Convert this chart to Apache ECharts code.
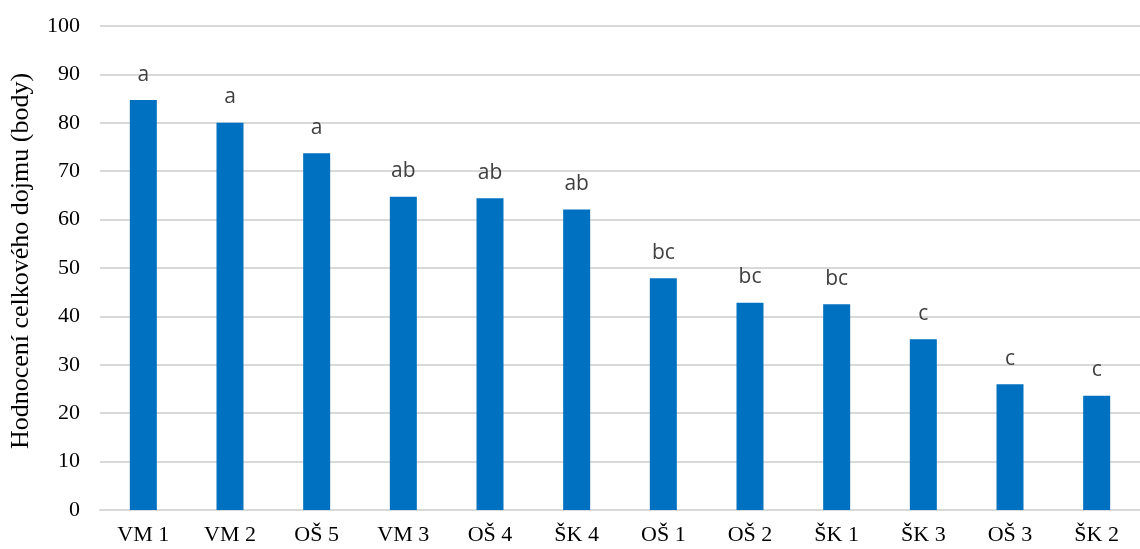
<!DOCTYPE html>
<html>
<head>
<meta charset="utf-8">
<script src="https://cdn.jsdelivr.net/npm/echarts@6/dist/echarts.min.js"></script>
<style>
  html, body { margin: 0; padding: 0; background: #fff; }
  #chart { width: 1140px; height: 549px; }
</style>
</head>
<body>
<div id="chart"></div>
<script>
// Samples ordered by overall impression score
const categories = ['VM 1', 'VM 2', 'OŠ 5', 'VM 3', 'OŠ 4', 'ŠK 4', 'OŠ 1', 'OŠ 2', 'ŠK 1', 'ŠK 3', 'OŠ 3', 'ŠK 2'];
const scores = [84.7, 80.0, 73.7, 64.7, 64.4, 62.1, 47.9, 42.8, 42.5, 35.3, 26.0, 23.6];
// Homogeneous-group letters shown above each bar
const groups = ['a', 'a', 'a', 'ab', 'ab', 'ab', 'bc', 'bc', 'bc', 'c', 'c', 'c'];
const yTicks = { min: 0, max: 100, interval: 10 };

const chart = echarts.init(document.getElementById('chart'), null, { renderer: 'canvas' });
chart.setOption({
  animation: false,
  grid: { left: 99, top: 26, width: 1052, bottom: 39 },
  xAxis: {
    type: 'category',
    data: categories,
    axisLine: { lineStyle: { color: '#d9d9d9', width: 2 } },
    axisTick: { show: false },
    axisLabel: {
      color: '#000',
      fontFamily: 'Liberation Serif',
      fontSize: 22,
      margin: 14,
      interval: 0
    }
  },
  yAxis: {
    type: 'value',
    min: yTicks.min,
    max: yTicks.max,
    interval: yTicks.interval,
    name: 'Hodnocení celkového dojmu (body)',
    nameLocation: 'middle',
    nameGap: 66,
    nameTextStyle: {
      color: '#000',
      fontFamily: 'Liberation Serif',
      fontSize: 26,
      padding: [0, 0, 0, 14]
    },
    axisLine: { show: false },
    axisTick: { show: false },
    axisLabel: { color: '#000', fontFamily: 'Liberation Serif', fontSize: 22, margin: 20 },
    splitLine: { lineStyle: { color: '#d9d9d9', width: 2 } }
  },
  series: [{
    type: 'bar',
    data: scores,
    barWidth: 27,
    itemStyle: { color: '#0070c0' },
    label: {
      show: true,
      position: 'top',
      distance: 15,
      formatter: p => groups[p.dataIndex],
      color: '#404040',
      fontFamily: 'Open Sans',
      fontSize: 21
    }
  }]
});
</script>
</body>
</html>
